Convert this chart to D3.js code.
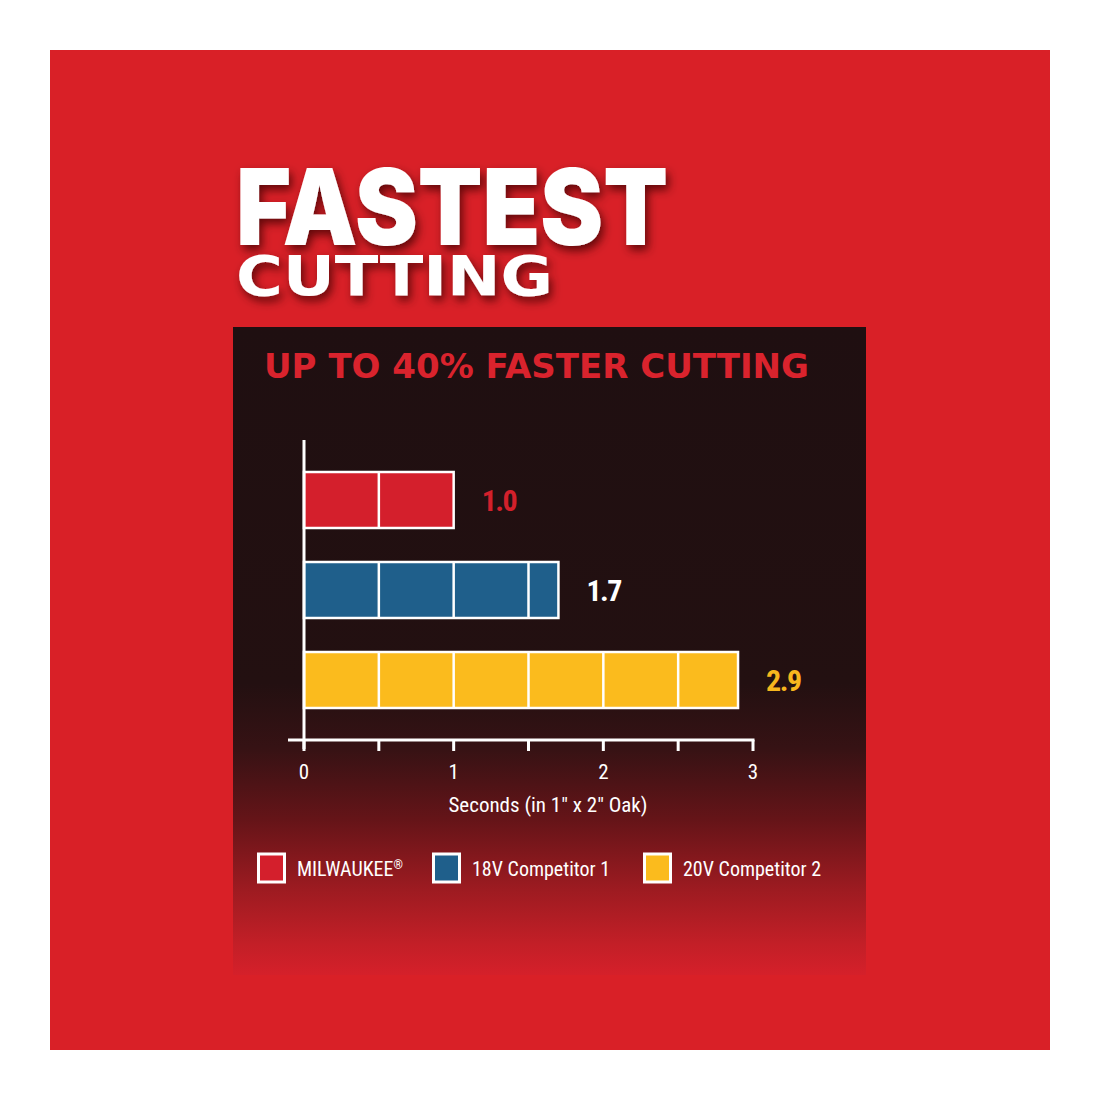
<!DOCTYPE html>
<html><head><meta charset="utf-8">
<script src="https://cdn.jsdelivr.net/npm/d3@7"></script>
<style>
html,body{margin:0;padding:0;background:#fff;}
svg{display:block;}
</style></head>
<body>
<script>
const categories = ["MILWAUKEE", "18V Competitor 1", "20V Competitor 2"];
const categorySup = ["®", "", ""];
const seconds = [1.0, 1.7, 2.9];
const valueLabels = ["1.0", "1.7", "2.9"];
const barColors = ["#d41f2c", "#1f5f8b", "#fbbb1d"];
const labelColors = ["#d3202b", "#ffffff", "#f7b61e"];
const xTicks = [0, 1, 2, 3];
const xMinorTicks = [0.5, 1.5, 2.5];
const titleLine1 = "FASTEST";
const titleLine2 = "CUTTING";
const subtitle = "UP TO 40% FASTER CUTTING";
const xAxisTitle = "Seconds (in 1\" x 2\" Oak)";

const W = 1100, H = 1100;
const svg = d3.select("body").append("svg").attr("width", W).attr("height", H);
const defs = svg.append("defs");

const grad = defs.append("linearGradient").attr("id","panelGrad").attr("x1",0).attr("y1",0).attr("x2",0).attr("y2",1);
[[0,"#1f0f11"],[0.55,"#231011"],[0.65,"#361214"],[0.76,"#651418"],[0.87,"#9e1b21"],[0.95,"#c21f27"],[1,"#d5202a"]].forEach(([o,c])=>
  grad.append("stop").attr("offset",o).attr("stop-color",c));

const sh = defs.append("filter").attr("id","shadow").attr("x","-10%").attr("y","-20%").attr("width","130%").attr("height","150%");
sh.append("feDropShadow").attr("dx",3).attr("dy",5).attr("stdDeviation",5).attr("flood-color","#3a0000").attr("flood-opacity",0.75);

// backgrounds
svg.append("rect").attr("x",50).attr("y",50).attr("width",1000).attr("height",1000).attr("fill","#d92027");
svg.append("rect").attr("x",233).attr("y",327).attr("width",633).attr("height",648).attr("fill","url(#panelGrad)");

// titles
svg.append("text").attr("x",236).attr("y",245).attr("textLength",432).attr("lengthAdjust","spacingAndGlyphs")
  .attr("font-family","Inter, Lato, 'DejaVu Sans'").attr("font-weight",900).attr("font-size",106)
  .attr("fill","#fff").attr("filter","url(#shadow)").text(titleLine1);
svg.append("text").attr("x",236).attr("y",295).attr("textLength",317).attr("lengthAdjust","spacingAndGlyphs")
  .attr("font-family","'DejaVu Sans'").attr("font-weight",700).attr("font-size",56)
  .attr("fill","#fff").attr("filter","url(#shadow)").text(titleLine2);

svg.append("text").attr("x",264).attr("y",378).attr("textLength",545).attr("lengthAdjust","spacingAndGlyphs")
  .attr("font-family","'DejaVu Sans'").attr("font-weight",700).attr("font-size",33)
  .attr("fill","#d9232d").text(subtitle);

// scales
const x = d3.scaleLinear().domain([0,3]).range([304,753]);
const y = d3.scalePoint().domain(categories).range([500,680]);
const barH = 56;
const condensed = "'Liberation Sans Narrow', 'Roboto Condensed', 'DejaVu Sans Condensed', sans-serif";

// bars
const bars = svg.append("g");
categories.forEach((c,i)=>{
  const v = seconds[i];
  const g = bars.append("g");
  g.append("rect").attr("x",x(0)).attr("y",y(c)-barH/2).attr("width",x(v)-x(0)).attr("height",barH)
    .attr("fill",barColors[i]).attr("stroke","#fff").attr("stroke-width",2.5);
  d3.range(0.5, v-0.01, 0.5).forEach(d=>{
    g.append("line").attr("x1",x(d)).attr("x2",x(d)).attr("y1",y(c)-barH/2).attr("y2",y(c)+barH/2)
      .attr("stroke","#fff").attr("stroke-width",2.5);
  });
  svg.append("text").attr("x",x(v)+28).attr("y",y(c)+11)
    .attr("font-family",condensed).attr("font-weight",700).attr("font-size",30)
    .attr("letter-spacing",-1.5)
    .attr("fill",labelColors[i]).text(valueLabels[i]);
});

// axes
svg.append("line").attr("x1",x(0)).attr("x2",x(0)).attr("y1",440).attr("y2",749)
  .attr("stroke","#fff").attr("stroke-width",3);
svg.append("line").attr("x1",288).attr("x2",x(3)+1.5).attr("y1",740).attr("y2",740)
  .attr("stroke","#fff").attr("stroke-width",3);
xTicks.concat(xMinorTicks).forEach(t=>{
  svg.append("line").attr("x1",x(t)).attr("x2",x(t)).attr("y1",740).attr("y2",751)
    .attr("stroke","#fff").attr("stroke-width",3);
});
xTicks.forEach(t=>{
  svg.append("text").attr("x",x(t)).attr("y",779).attr("text-anchor","middle")
    .attr("font-family",condensed).attr("font-size",21).attr("fill","#fff").text(t);
});
svg.append("text").attr("x",548).attr("y",812).attr("text-anchor","middle")
  .attr("font-family",condensed).attr("font-size",21).attr("fill","#fff").text(xAxisTitle);

// legend
const legendX = [257, 432, 643];
categories.forEach((c,i)=>{
  svg.append("rect").attr("x",legendX[i]+1.5).attr("y",854).attr("width",26).attr("height",28)
    .attr("fill",barColors[i]).attr("stroke","#fff").attr("stroke-width",3);
  const t = svg.append("text").attr("x",legendX[i]+40).attr("y",876)
    .attr("font-family",condensed).attr("font-size",20).attr("fill","#fff");
  t.append("tspan").text(c);
  if (categorySup[i]) t.append("tspan").attr("font-size",12).attr("dy",-7).text(categorySup[i]);
});
</script>
</body></html>
